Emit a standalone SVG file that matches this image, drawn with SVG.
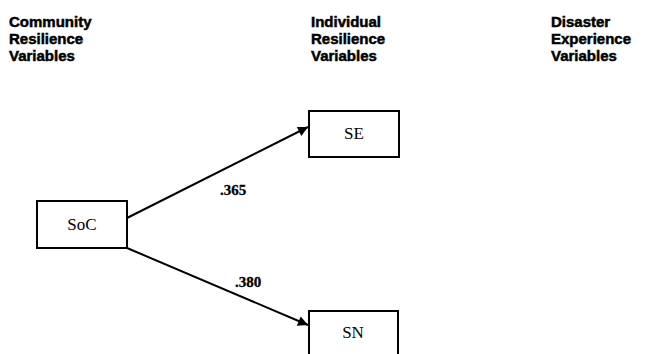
<svg xmlns="http://www.w3.org/2000/svg" width="659" height="354" viewBox="0 0 659 354">
<style>
.hdr{font-family:"Liberation Sans",Arial,sans-serif;font-weight:bold;font-size:15px;fill:#000;stroke:#000;stroke-width:0.5}
.box{fill:#fff;stroke:#000;stroke-width:2}
.lbl{font-family:"Liberation Serif","Times New Roman",serif;font-size:17px;fill:#000;text-anchor:middle}
.coef{font-family:"Liberation Serif","Times New Roman",serif;font-weight:bold;font-size:15px;fill:#000;stroke:#000;stroke-width:0.3}
.conn{stroke:#000;stroke-width:2;fill:none}
</style>
<defs>
<marker id="arr" viewBox="0 0 10 10" refX="10" refY="5" markerWidth="6.5" markerHeight="5" orient="auto" markerUnits="strokeWidth">
<path d="M0,0 L10,5 L0,10 z" fill="#000"/>
</marker>
</defs>
<g id="headers">
<text class="hdr" x="9" y="27">Community</text>
<text class="hdr" x="9" y="44">Resilience</text>
<text class="hdr" x="9" y="61">Variables</text>
<text class="hdr" x="311" y="27">Individual</text>
<text class="hdr" x="311" y="44">Resilience</text>
<text class="hdr" x="311" y="61">Variables</text>
<text class="hdr" x="551" y="27">Disaster</text>
<text class="hdr" x="551" y="44">Experience</text>
<text class="hdr" x="551" y="61">Variables</text>
</g>
<g id="connectors">
<line class="conn" x1="127" y1="218" x2="308" y2="127" marker-end="url(#arr)"/>
<line class="conn" x1="127" y1="248" x2="308" y2="325" marker-end="url(#arr)"/>
<text class="coef" x="220" y="195">.365</text>
<text class="coef" x="235" y="287">.380</text>
</g>
<g id="node-SoC">
<rect class="box" x="37" y="201" width="90" height="47"/>
<text class="lbl" x="82" y="230">SoC</text>
</g>
<g id="node-SE">
<rect class="box" x="309" y="111" width="90" height="46"/>
<text class="lbl" x="354" y="139">SE</text>
</g>
<g id="node-SN">
<rect class="box" x="309" y="311" width="89" height="46"/>
<text class="lbl" x="353" y="338">SN</text>
</g>
</svg>
